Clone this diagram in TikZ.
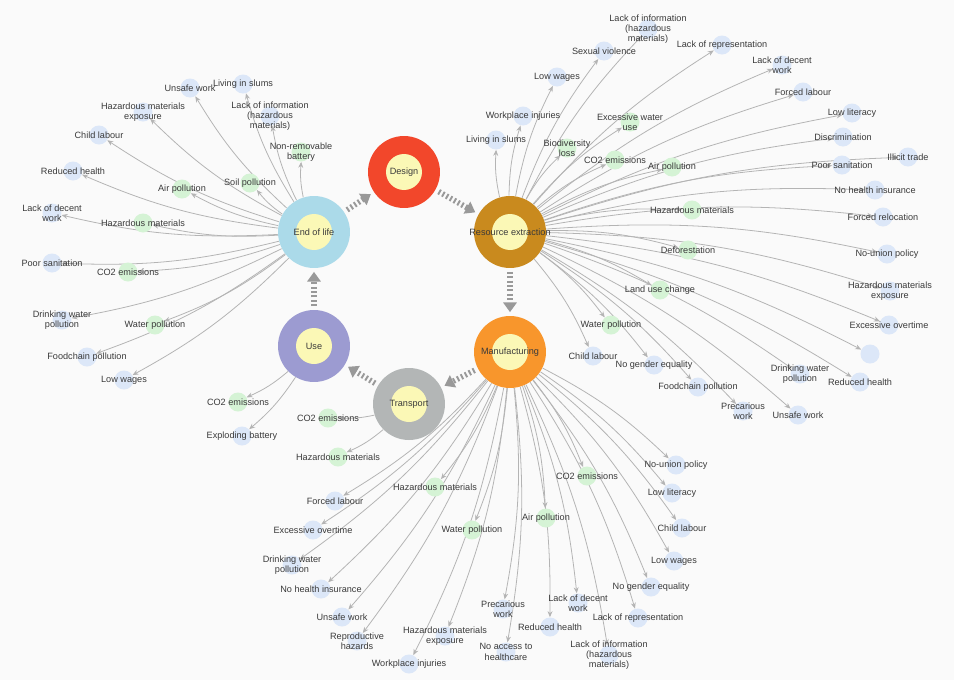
\documentclass[tikz,border=0pt]{standalone}
\usepackage{fontspec}
\setmainfont{Liberation Sans}
\usetikzlibrary{arrows.meta}
\definecolor{cbg}{HTML}{FAFAFA}
\definecolor{cdesign}{HTML}{F2472B}
\definecolor{crex}{HTML}{C98A1E}
\definecolor{cman}{HTML}{F8962C}
\definecolor{ctrn}{HTML}{B3B6B6}
\definecolor{cuse}{HTML}{9C9BD1}
\definecolor{ceol}{HTML}{ABDAE9}
\definecolor{ccore}{HTML}{FBF8B6}
\definecolor{csoc}{HTML}{DCE7F8}
\definecolor{cgrn}{HTML}{D5F3D5}
\definecolor{cline}{HTML}{B4B4B4}
\definecolor{ctxt}{HTML}{3A3A3A}
\newcommand{\lfont}{\fontsize{5.2}{5.9}\selectfont}
\pgfdeclarelayer{bg}
\pgfdeclarelayer{edges}
\pgfsetlayers{bg,edges,main}

\begin{document}
\begin{tikzpicture}[x=0.02cm,y=-0.02cm,
  hub/.style={circle,minimum size=1.44cm,inner sep=0pt},
  core/.style={circle,fill=ccore,minimum size=0.72cm,inner sep=0pt},
  txt/.style={font=\lfont,text=ctxt,align=center,inner sep=0pt},
  soc/.style={circle,fill=csoc,minimum size=0.38cm,inner sep=0pt},
  grn/.style={circle,fill=cgrn,minimum size=0.38cm,inner sep=0pt},
  link/.style={draw=cline,line width=0.45pt,-{Stealth[length=3.4pt,width=2.8pt]}},
  flow/.style={draw=black!40,line width=3.2pt,dash pattern=on 1.1pt off 1.4pt,
    shorten <=2pt,shorten >=2pt,-{Triangle[length=5.5pt,width=7.5pt]}}]
  \begin{pgfonlayer}{bg}
    \fill[cbg] (0,0) rectangle (954,680);
  \end{pgfonlayer}
  \useasboundingbox (0,0) rectangle (954,680);

  % life cycle stages
  \foreach \n/\x/\y/\c/\t in {design/404/172/cdesign/Design,
      rex/510/232/crex/Resource extraction, man/510/352/cman/Manufacturing,
      trn/409/404/ctrn/Transport, use/314/346/cuse/Use, eol/314/232/ceol/End of life}{
    \node[hub,fill=\c] (\n) at (\x,\y) {};
    \node[core] at (\n) {};
    \node[txt] at (\n) {\t};
  }
  \draw[flow] (design) -- (rex);
  \draw[flow] (rex) -- (man);
  \draw[flow] (man) -- (trn);
  \draw[flow] (trn) -- (use);
  \draw[flow] (use) -- (eol);
  \draw[flow] (eol) -- (design);

  % end of life
  \foreach \n/\x/\y/\k/\t in {e1/190/88/soc/Unsafe work, e2/243/84/soc/Living in slums,
      e3/143/112/soc/Hazardous materials\\exposure,
      e4/270/116/soc/Lack of information\\(hazardous\\materials),
      e5/99/135/soc/Child labour, e6/301/152/grn/Non-removable\\battery,
      e7/73/171/soc/Reduced health, e8/182/189/grn/Air pollution,
      e9/250/183/grn/Soil pollution, e10/52/213/soc/Lack of decent\\work,
      e11/143/223/grn/Hazardous materials, e12/52/263/soc/Poor sanitation,
      e13/128/272/grn/CO2 emissions, e14/62/320/soc/Drinking water\\pollution,
      e15/155/325/grn/Water pollution, e16/87/357/soc/Foodchain pollution,
      e17/124/380/soc/Low wages}{
    \node[\k] (\n) at (\x,\y) {};
    \begin{pgfonlayer}{edges}
      \draw[link] (eol) to[bend left=8] (\n);
    \end{pgfonlayer}
    \node[txt] at (\n) {\t};
  }

  % resource extraction
  \foreach \n/\x/\y/\k/\t in {r1/648/29/soc/Lack of information\\(hazardous\\materials),
      r2/604/51/soc/Sexual violence, r3/722/45/soc/Lack of representation,
      r4/782/65/soc/Lack of decent\\work, r5/557/77/soc/Low wages,
      r6/803/92/soc/Forced labour, r7/523/116/soc/Workplace injuries,
      r8/630/122/grn/Excessive water\\use, r9/852/113/soc/Low literacy,
      r10/496/140/soc/Living in slums, r11/567/148/grn/Biodiversity\\loss,
      r12/843/137/soc/Discrimination, r13/615/160/grn/CO2 emissions,
      r14/672/167/grn/Air pollution, r15/908/157/soc/Illicit trade,
      r16/842/165/soc/Poor sanitation, r17/875/190/soc/No health insurance,
      r18/692/210/grn/Hazardous materials, r19/883/217/soc/Forced relocation,
      r20/688/250/grn/Deforestation, r21/887/254/soc/No-union policy,
      r22/660/290/grn/Land use change, r23/890/291/soc/Hazardous materials\\exposure,
      r24/611/325/grn/Water pollution, r25/889/325/soc/Excessive overtime,
      r26/870/354/soc/{}, r27/593/356/soc/Child labour,
      r28/654/365/soc/No gender equality, r29/800/374/soc/Drinking water\\pollution,
      r30/860/382/soc/Reduced health, r31/698/387/soc/Foodchain pollution,
      r32/743/411/soc/Precarious\\work, r33/798/415/soc/Unsafe work}{
    \node[\k] (\n) at (\x,\y) {};
    \begin{pgfonlayer}{edges}
      \draw[link] (rex) to[bend left=8] (\n);
    \end{pgfonlayer}
    \node[txt] at (\n) {\t};
  }

  % manufacturing
  \foreach \n/\x/\y/\k/\t in {m1/676/465/soc/No-union policy, m2/587/476/grn/CO2 emissions,
      m3/672/493/soc/Low literacy, m4/546/518/grn/Air pollution,
      m5/472/530/grn/Water pollution, m6/682/528/soc/Child labour,
      m7/674/561/soc/Low wages, m8/651/587/soc/No gender equality,
      m9/578/603/soc/Lack of decent\\work, m10/503/609/soc/Precarious\\work,
      m11/638/618/soc/Lack of representation, m12/550/627/soc/Reduced health,
      m13/506/652/soc/No access to\\healthcare,
      m14/609/655/soc/Lack of information\\(hazardous\\materials),
      m15/445/636/soc/Hazardous materials\\exposure, m16/435/487/grn/Hazardous materials,
      m17/335/501/soc/Forced labour, m18/313/530/soc/Excessive overtime,
      m19/292/565/soc/Drinking water\\pollution, m20/321/589/soc/No health insurance,
      m21/342/617/soc/Unsafe work, m22/357/641/soc/Reproductive\\hazards,
      m23/409/664/soc/Workplace injuries}{
    \node[\k] (\n) at (\x,\y) {};
    \begin{pgfonlayer}{edges}
      \draw[link] (man) to[bend left=8] (\n);
    \end{pgfonlayer}
    \node[txt] at (\n) {\t};
  }

  % transport and use
  \foreach \h/\n/\x/\y/\k/\t in {trn/t1/328/418/grn/CO2 emissions,
      trn/t2/338/457/grn/Hazardous materials, use/u1/238/402/grn/CO2 emissions,
      use/u2/242/436/soc/Exploding battery}{
    \node[\k] (\n) at (\x,\y) {};
    \begin{pgfonlayer}{edges}
      \draw[link] (\h) to[bend left=8] (\n);
    \end{pgfonlayer}
    \node[txt] at (\n) {\t};
  }
\end{tikzpicture}
\end{document}
